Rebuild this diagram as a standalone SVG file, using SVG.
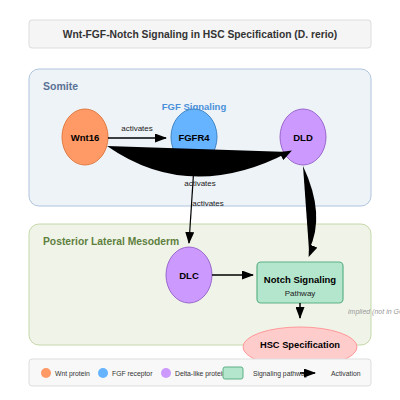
<svg xmlns="http://www.w3.org/2000/svg" width="400" height="400" viewBox="0 0 400 400">
<defs>
<marker id="ah" markerWidth="12" markerHeight="9" refX="11" refY="4.5" orient="auto" markerUnits="userSpaceOnUse"><path d="M0,0 L12,4.5 L0,9 Z" fill="#000"/></marker>
</defs>
<style>
text{font-family:"Liberation Sans",Arial,sans-serif}
.nl{font-size:9.5px;font-weight:bold;fill:#000;text-anchor:middle}
.el{font-size:8px;fill:#222;text-anchor:middle}
.lg{font-size:6.8px;fill:#333}
.purple{fill:#cc99ff;stroke:#9966cc;stroke-width:1}
.ln{stroke:#000;stroke-width:1.5;fill:none}
</style>
<rect width="400" height="400" fill="#fff"/>
<g id="title"><rect x="29" y="20" width="342" height="28" rx="3" fill="#f5f5f5" stroke="#ddd"/><text x="200" y="38" text-anchor="middle" font-size="10.3" font-weight="bold" fill="#333">Wnt-FGF-Notch Signaling in HSC Specification (D. rerio)</text></g>
<g id="somite"><rect x="29" y="69" width="342" height="137" rx="10" fill="#eef3f8" stroke="#b0c4de"/><text x="43" y="90" font-size="10.5" font-weight="bold" fill="#5a7294">Somite</text></g>
<g id="plm"><rect x="29" y="224" width="342" height="121" rx="10" fill="#f0f4e8" stroke="#c5d8a8"/><text x="43" y="245" font-size="10.3" font-weight="bold" fill="#5f7f3f">Posterior Lateral Mesoderm</text></g>
<text x="194" y="110" text-anchor="middle" font-size="9.5" font-weight="bold" fill="#4a90d9">FGF Signaling</text>
<g id="wnt16"><ellipse cx="85" cy="137" rx="23" ry="28" fill="#ff9966" stroke="#e07a40"/><text class="nl" x="85" y="141">Wnt16</text></g>
<g id="fgfr4"><ellipse cx="194" cy="137" rx="23" ry="28" fill="#66b3ff" stroke="#3d85c6"/><text class="nl" x="194" y="141">FGFR4</text></g>
<g id="dld"><ellipse cx="303" cy="137" rx="23" ry="28" class="purple"/><text class="nl" x="303" y="141">DLD</text></g>
<g id="dlc"><ellipse cx="189" cy="275" rx="23" ry="28" class="purple"/><text class="nl" x="189" y="279">DLC</text></g>
<g id="notch"><rect x="257" y="262" width="86" height="41" rx="4" fill="#b3e6cc" stroke="#5cb085" stroke-width="1.2"/><text class="nl" x="300" y="283">Notch Signaling</text><text x="300" y="296" text-anchor="middle" font-size="8" fill="#222">Pathway</text></g>
<g id="connectors">
<line x1="108" y1="138" x2="166" y2="138" class="ln" marker-end="url(#ah)"/>
<text class="el" x="137" y="131">activates</text>
<path d="M107,146 Q190,204 289,152 Z" fill="#000"/>
<path d="M107,146 Q190,204 291,151" fill="none" stroke="none" marker-end="url(#ah)"/>
<path d="M303,166 Q326,215 309,250 Z" fill="#000"/>
<path d="M303,166 Q326,215 309,256" fill="none" stroke="none" marker-end="url(#ah)"/>
<line x1="194" y1="166" x2="189" y2="243" stroke="#000" stroke-width="1.2" marker-end="url(#ah)"/>
<text class="el" x="200" y="186">activates</text>
<text class="el" x="208" y="206">activates</text>
<line x1="212" y1="275" x2="253" y2="275" class="ln" marker-end="url(#ah)"/>
<line x1="300" y1="303" x2="300" y2="318" class="ln" marker-end="url(#ah)"/>
<text x="348" y="314" font-size="7" font-style="italic" fill="#999">implied (not in GO)</text>
</g>
<g id="hsc"><ellipse cx="300" cy="347" rx="57" ry="20" fill="#ffcccc" stroke="#ff9999"/><text x="300" y="348" text-anchor="middle" font-size="9.3" font-weight="bold" fill="#000">HSC Specification</text></g>
<g id="legend"><rect x="29" y="359" width="342" height="27" rx="3" fill="#f8f8f8" stroke="#ddd"/>
<circle cx="46" cy="373" r="5" fill="#ff9966"/><text class="lg" x="55" y="376">Wnt protein</text>
<circle cx="103" cy="373" r="5" fill="#66b3ff"/><text class="lg" x="112" y="376">FGF receptor</text>
<circle cx="166" cy="373" r="5" fill="#cc99ff"/><text class="lg" x="175" y="376">Delta-like protein</text>
<rect x="223" y="367" width="20" height="12" rx="2" fill="#b3e6cc" stroke="#5cb085"/><text class="lg" x="253" y="376">Signaling pathway</text>
<line x1="300" y1="373" x2="315" y2="373" class="ln" marker-end="url(#ah)"/><text class="lg" x="331" y="376">Activation</text></g>
</svg>
